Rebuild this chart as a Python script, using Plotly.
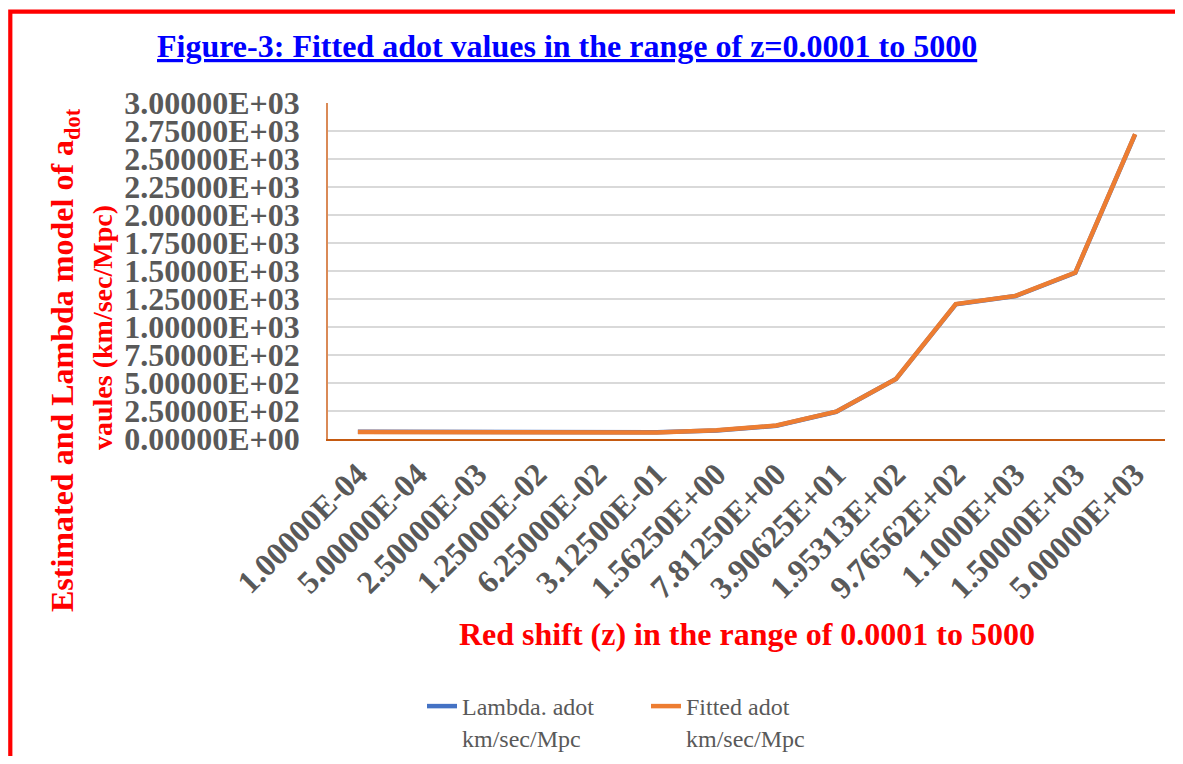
import plotly.graph_objects as go

z_labels = ["1.00000E-04", "5.00000E-04", "2.50000E-03", "1.25000E-02", "6.25000E-02",
            "3.12500E-01", "1.56250E+00", "7.81250E+00", "3.90625E+01", "1.95313E+02",
            "9.76562E+02", "1.1000E+03", "1.50000E+03", "5.00000E+03"]
lambda_adot = [64, 64, 64, 63.5, 62, 60, 77, 118, 243, 535, 1203, 1276, 1484, 2720]
fitted_adot = [63, 63, 62.5, 62, 61, 59, 78, 120, 244, 536, 1205, 1278, 1486, 2723]
y_tickvals = [0, 250, 500, 750, 1000, 1250, 1500, 1750, 2000, 2250, 2500, 2750, 3000]
y_ticktext = ["0.00000E+00", "2.50000E+02", "5.00000E+02", "7.50000E+02", "1.00000E+03",
              "1.25000E+03", "1.50000E+03", "1.75000E+03", "2.00000E+03", "2.25000E+03",
              "2.50000E+03", "2.75000E+03", "3.00000E+03"]

FONT = "Liberation Serif"
OFF = 8  # page body margin
W, H = 1183 - 2 * OFF, 764 - 2 * OFF
# target plot area in screen pixels
SL, SR, ST, SB = 328, 1165, 103, 439
L, T = SL - OFF, ST - OFF
R = W - (SR - OFF)
B = H - (SB - OFF)
pw, ph = W - L - R, H - T - B

def px(x):  # screen x -> paper
    return (x - OFF - L) / pw

def py(y):  # screen y -> paper
    return (H - B - (y - OFF)) / ph

fig = go.Figure()
fig.add_trace(go.Scatter(x=z_labels, y=lambda_adot, mode="lines",
                         name="Lambda. adot<br>km/sec/Mpc",
                         line=dict(color="#4472C4", width=4.5)))
fig.add_trace(go.Scatter(x=z_labels, y=fitted_adot, mode="lines",
                         name="Fitted adot<br>km/sec/Mpc",
                         line=dict(color="#ED7D31", width=4.5)))

fig.update_layout(
    width=W, height=H,
    margin=dict(l=L, r=R, t=T, b=B, autoexpand=False),
    paper_bgcolor="white", plot_bgcolor="white",
    font=dict(family=FONT, color="#595959"),
    showlegend=True,
    legend=dict(orientation="h", x=px(422), xanchor="left", y=py(684), yanchor="top",
                valign="top", font=dict(family=FONT, size=24, color="#595959"),
                entrywidth=179, entrywidthmode="pixels",
                bgcolor="rgba(0,0,0,0)"),
    xaxis=dict(type="category", range=[-0.5, len(z_labels) - 0.5], automargin=False,
               tickangle=-45, showgrid=False,
               showline=True, linecolor="#C55A11", linewidth=1.5,
               tickfont=dict(family=FONT, size=32, color="#595959", weight="bold"),
               ticks="", ticklabelstandoff=2),
    yaxis=dict(range=[0, 3000], tickvals=y_tickvals, ticktext=y_ticktext, automargin=False,
               showgrid=True, gridcolor="#D9D9D9", gridwidth=1.5,
               showline=True, linecolor="#DA8A57", linewidth=1.5,
               zeroline=False, ticks="",
               tickfont=dict(family=FONT, size=32, color="#595959", weight="bold"),
               ticklabelstandoff=20),
    shapes=[dict(type="rect", xref="paper", yref="paper",
                 x0=px(10.3), x1=px(1220), y0=py(800), y1=py(11.7),
                 line=dict(color="#FF0000", width=4.2), fillcolor="rgba(0,0,0,0)",
                 layer="above")],
    annotations=[
        dict(text="<b><u>Figure-3: Fitted adot values in the range of z=0.0001 to 5000</u></b>",
             xref="paper", yref="paper", x=px(567), y=py(46), xanchor="center", yanchor="middle",
             showarrow=False, font=dict(family=FONT, size=32, color="#0000FF")),
        dict(text="<b>Estimated and Lambda model of a<sub>dot</sub></b>",
             xref="paper", yref="paper", x=px(64), y=py(360), xanchor="center", yanchor="middle",
             textangle=-90, showarrow=False,
             font=dict(family=FONT, size=32, color="#FF0000")),
        dict(text="<b>vaules (km/sec/Mpc)</b>",
             xref="paper", yref="paper", x=px(102), y=py(328), xanchor="center", yanchor="middle",
             textangle=-90, showarrow=False,
             font=dict(family=FONT, size=28, color="#FF0000")),
        dict(text="<b>Red shift (z) in the range of 0.0001 to 5000</b>",
             xref="paper", yref="paper", x=px(747), y=py(634), xanchor="center", yanchor="middle",
             showarrow=False, font=dict(family=FONT, size=32, color="#FF0000")),
    ],
)

fig.write_html("out.html")
